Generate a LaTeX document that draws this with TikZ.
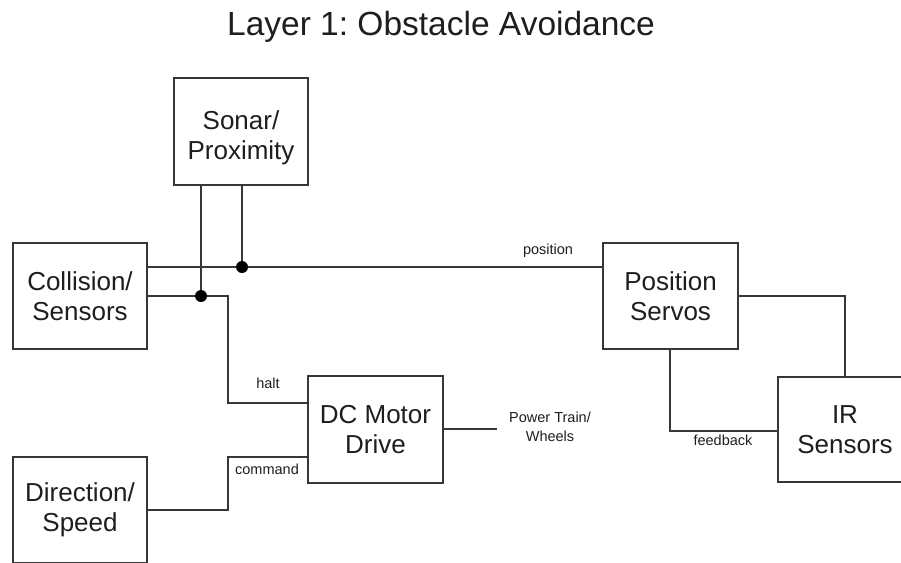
\documentclass[tikz,border=0pt]{standalone}
\usepackage{fontspec}
\setmainfont{Liberation Sans}
\frenchspacing
\definecolor{linecol}{RGB}{55,55,55}
\definecolor{textcol}{RGB}{30,30,30}
\tikzset{
  blockbox/.style={draw=linecol, line width=1.8pt, minimum width=#1, inner sep=0pt, align=center,
    text=textcol, font=\fontsize{26}{30}\selectfont},
  blockbox/.default=134pt,
  boxtext/.style={text=textcol, font=\fontsize{26}{30}\selectfont, align=center, inner sep=0pt},
  wire/.style={draw=linecol, line width=1.6pt},
  smalllabel/.style={text=textcol, font=\fontsize{14.5}{18}\selectfont, inner sep=0pt, align=center},
  junction/.style={fill=black}
}
\begin{document}
\begin{tikzpicture}[x=1pt, y=-1pt]
\useasboundingbox (0,0) rectangle (901,562);
\fill[white] (0,0) rectangle (901,562);
\clip (0,0) rectangle (901,562);

% title
\node[text=textcol, font=\fontsize{33.5}{37}\selectfont, anchor=base] (title) at (441,35) {Layer 1: Obstacle Avoidance};

% blocks
\node[blockbox=134pt, minimum height=107pt,
      label={[boxtext, yshift=-6pt]center:{Sonar/\\Proximity}}] (sonar) at (241,131.5) {};
\node[blockbox=134pt, minimum height=106pt] (coll) at (80,296) {Collision/\\Sensors};
\node[blockbox=135pt, minimum height=106pt] (pos) at (670.5,296) {Position\\Servos};
\node[blockbox=135pt, minimum height=107pt] (dc) at (375.5,429.5) {DC Motor\\Drive};
\node[blockbox=134pt, minimum height=105pt] (ir) at (845,429.5) {IR\\Sensors};
\node[blockbox=134pt, minimum height=106pt] (dir) at (80,510) {Direction/\\Speed};

% helper points
\coordinate (j1) at (242,267);
\coordinate (j2) at (201,296);
\coordinate (h0) at (228,296);
\coordinate (h1) at (228,403);
\coordinate (c0) at (228,510);
\coordinate (c1) at (228,457);
\coordinate (pw) at (497,429);
\coordinate (f1) at (670,431);

% connectors
\draw[wire] (coll.east |- j1) -- (pos.west |- j1);
\draw[wire] (sonar.south -| j1) -- (j1);
\draw[wire] (sonar.south -| j2) -- (j2);
\draw[wire] (coll.east |- j2) -- (h0) -- (h1) -- (dc.west |- h1);
\draw[wire] (dir.east |- c0) -- (c0) -- (c1) -- (dc.west |- c1);
\draw[wire] (dc.east |- pw) -- (pw);
\draw[wire] (pos.east) -| (ir.north);
\draw[wire] (pos.south -| f1) -- (f1) -- (ir.west |- f1);

\fill[junction] (j1) circle[radius=6pt];
\fill[junction] (j2) circle[radius=6pt];

% labels
\node[smalllabel] (lpos) at (548,251) {position};
\node[smalllabel] (lhalt) at (268,383) {halt};
\node[smalllabel] (lcmd) at (267,469) {command};
\node[smalllabel] (lfb) at (723,440) {feedback};
\node[smalllabel, font=\fontsize{14.5}{19}\selectfont] (lpw) at (550,427) {Power Train/\\Wheels};
\end{tikzpicture}
\end{document}
